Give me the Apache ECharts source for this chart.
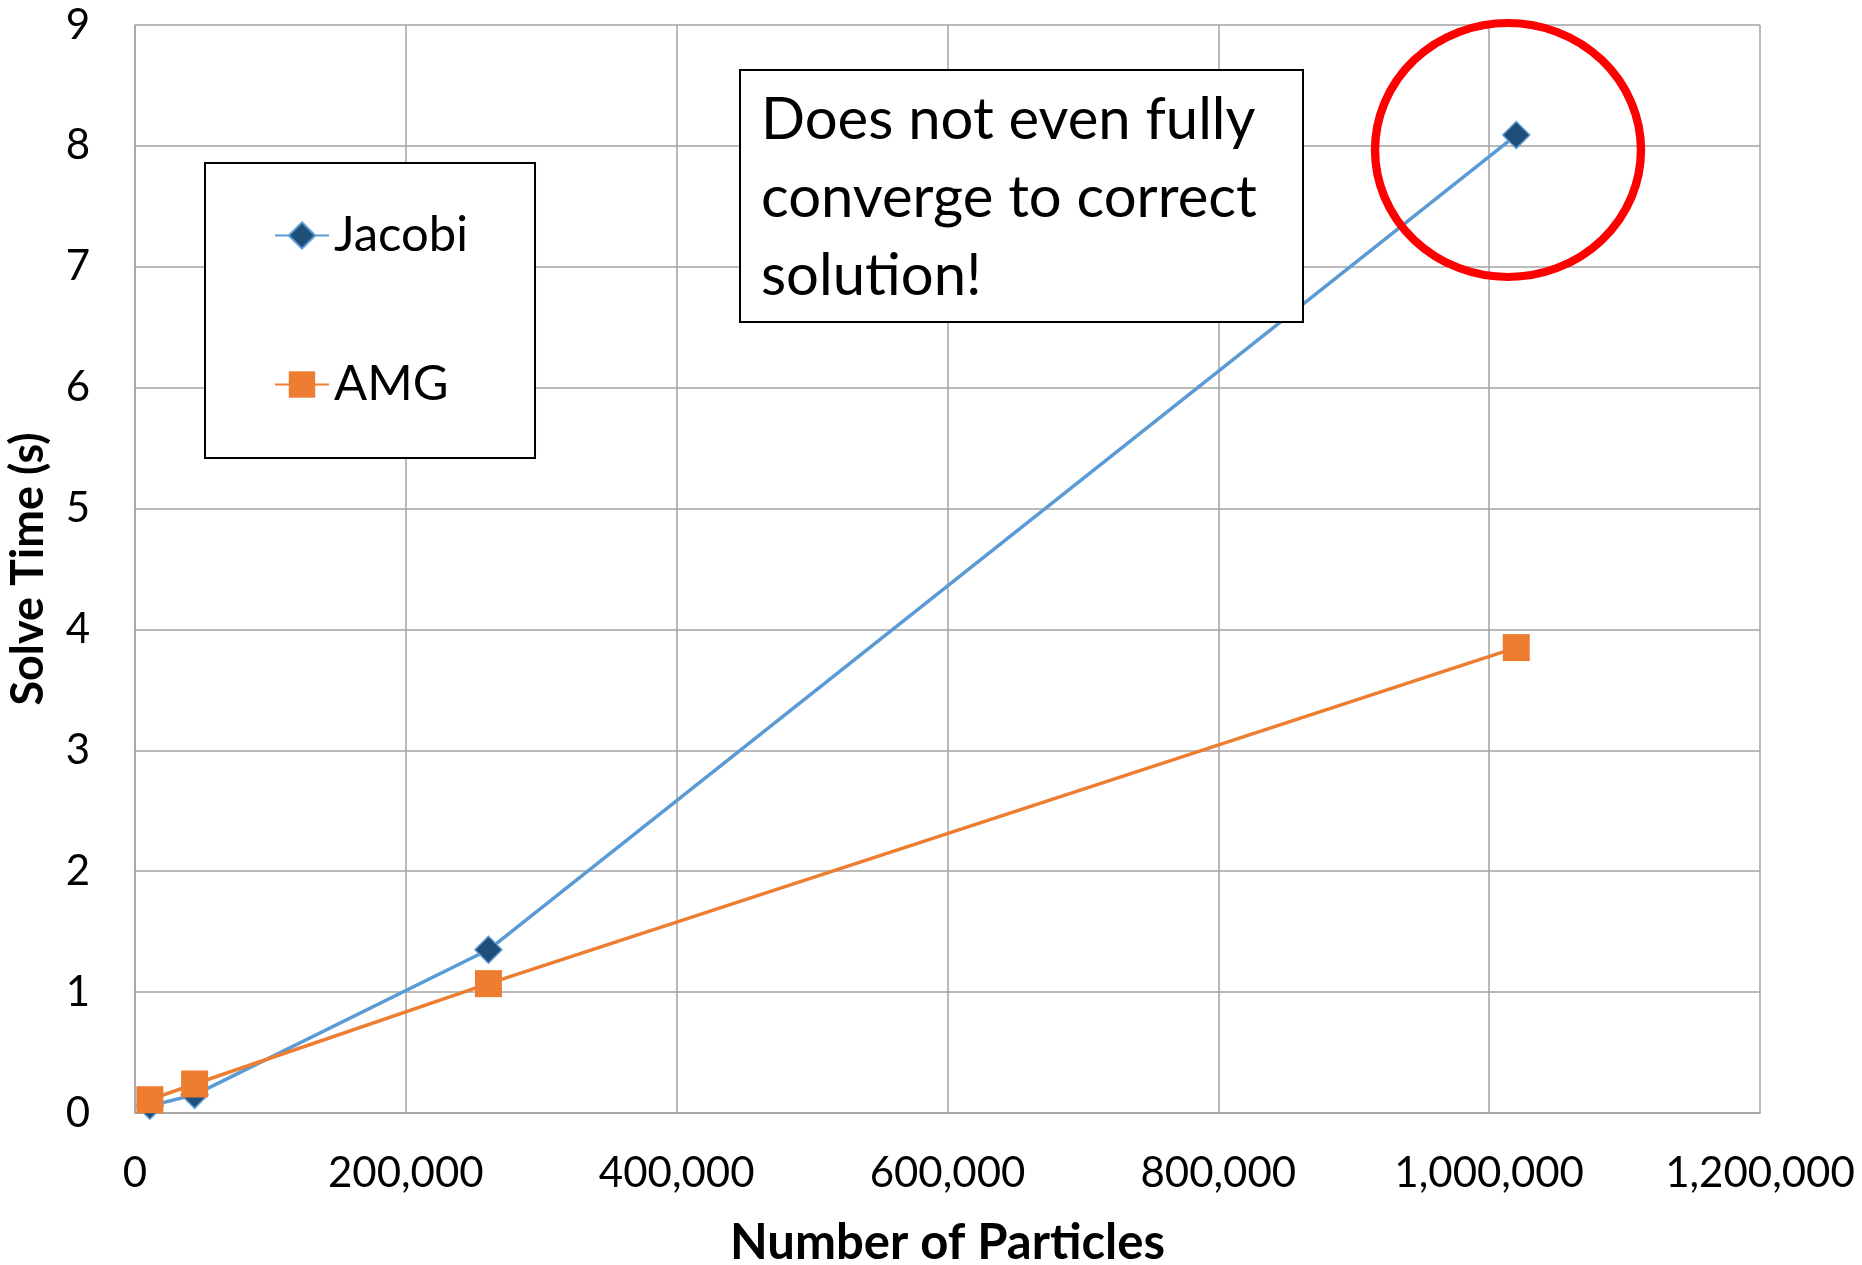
<!DOCTYPE html>
<html>
<head>
    <meta charset="UTF-8">
    <title>Solve Time vs Number of Particles</title>
    <script src="https://cdn.jsdelivr.net/npm/echarts@6/dist/echarts.min.js"></script>
</head>
<body style="margin: 0; padding: 0;">
    <div id="container" style="width: 1862px; height: 1265px;"></div>
    <script>
        // values
        var particles = [11000, 44000, 261000, 1020000];
        var jacobi = [0.06, 0.15, 1.35, 8.09];
        var amg = [0.11, 0.24, 1.07, 3.85];
        var seriesNames = ["Jacobi", "AMG"];
        var xTitle = "Number of Particles";
        var yTitle = "Solve Time (s)";
        var noteLines = ["Does not even fully", "converge to correct", "solution!"];

        var font = "Lato, 'Open Sans', sans-serif";
        var gridColor = "#a3a3a3";

        function pairs(xs, ys) {
            return xs.map((x, i) => [x, ys[i]]);
        }

        var chart = echarts.init(document.getElementById('container'), null, {
            renderer: 'canvas'
        });

        var option = {
            backgroundColor: "#ffffff",
            animation: false,
            textStyle: { fontFamily: font, color: "#000" },
            grid: { left: 135, right: 102, top: 25, bottom: 152, outerBoundsMode: "none", containLabel: false },
            xAxis: {
                type: "value",
                min: 0,
                max: 1200000,
                interval: 200000,
                name: xTitle,
                nameLocation: "middle",
                nameGap: 106,
                nameTextStyle: { fontFamily: font, fontSize: 49, fontWeight: "bold", color: "#000" },
                axisLine: { show: true, lineStyle: { color: gridColor, width: 1.5 } },
                axisTick: { show: false },
                axisLabel: {
                    fontFamily: font, fontSize: 42, color: "#000", margin: 39,
                    formatter: (v) => v.toLocaleString("en-US")
                },
                splitLine: { show: true, lineStyle: { color: gridColor, width: 1.5 } }
            },
            yAxis: {
                type: "value",
                min: 0,
                max: 9,
                interval: 1,
                name: yTitle,
                nameLocation: "middle",
                nameGap: 84,
                nameTextStyle: { fontFamily: font, fontSize: 45, fontWeight: "bold", color: "#000" },
                axisLine: { show: true, lineStyle: { color: gridColor, width: 1.5 } },
                axisTick: { show: false },
                axisLabel: { fontFamily: font, fontSize: 42, color: "#000", margin: 45 },
                splitLine: { show: true, lineStyle: { color: gridColor, width: 1.5 } }
            },
            legend: {
                data: seriesNames,
                orient: "vertical",
                left: 205,
                top: 163,
                itemWidth: 54,
                itemHeight: 33,
                itemGap: 100,
                padding: [48, 67, 49, 69],
                backgroundColor: "#ffffff",
                borderColor: "#000",
                borderWidth: 2,
                borderRadius: 0,
                textStyle: { fontFamily: font, fontSize: 49, color: "#000", lineHeight: 49 }
            },
            series: [{
                type: "line",
                name: seriesNames[0],
                data: pairs(particles, jacobi),
                symbol: "diamond",
                symbolSize: 27,
                lineStyle: { color: "#5b9bd5", width: 3.5 },
                itemStyle: { color: "#1f4e79", borderColor: "#5b9bd5", borderWidth: 1.5 }
            }, {
                type: "line",
                name: seriesNames[1],
                data: pairs(particles, amg),
                symbol: "rect",
                symbolSize: 27,
                lineStyle: { color: "#ed7d31", width: 3.5 },
                itemStyle: { color: "#ed7d31", borderColor: "#ed7d31", borderWidth: 0 }
            }],
            graphic: [{
                type: "rect",
                z: 100,
                shape: { x: 740, y: 70, width: 563, height: 252 },
                style: { fill: "#ffffff", stroke: "#000", lineWidth: 2 }
            }, {
                type: "text",
                z: 101,
                x: 761,
                y: 81,
                style: {
                    text: noteLines.join("\n"),
                    fontFamily: font,
                    fontSize: 58,
                    lineHeight: 78,
                    fill: "#000",
                    verticalAlign: "top"
                }
            }, {
                type: "circle",
                z: 102,
                x: 1508,
                y: 150,
                scaleX: 1.047,
                shape: { cx: 0, cy: 0, r: 127 },
                style: { fill: null, stroke: "#ff0000", lineWidth: 8 }
            }]
        };
        chart.setOption(option);
    </script>
</body>
</html>
